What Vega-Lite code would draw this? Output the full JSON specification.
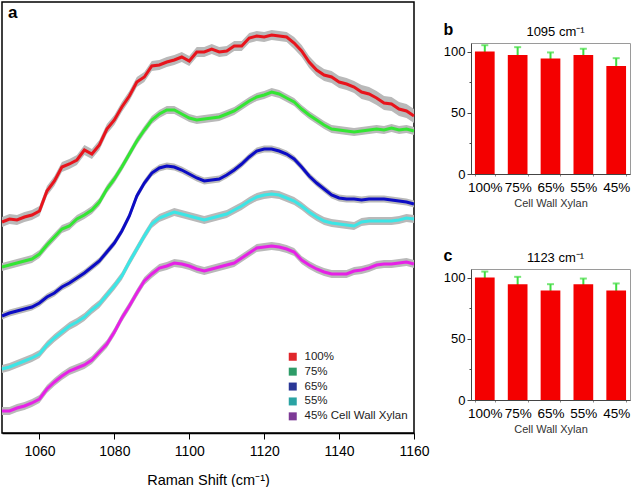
{
"$schema":"https://vega.github.io/schema/vega-lite/v6.json",
"padding":{"left":-5,"top":1,"right":0,"bottom":0},
"config":{"font":"Liberation Sans","axis":{"grid":false}},
"datasets":{
"spec":[
{"s":"100%","x":1050,"v":211,"e":5},{"s":"100%","x":1052,"v":214,"e":5},{"s":"100%","x":1054,"v":213,"e":5},{"s":"100%","x":1056,"v":216,"e":5},{"s":"100%","x":1058,"v":218,"e":5},{"s":"100%","x":1060,"v":222,"e":5},{"s":"100%","x":1062,"v":242,"e":5},{"s":"100%","x":1064,"v":252,"e":5},{"s":"100%","x":1066,"v":266,"e":5},{"s":"100%","x":1068,"v":269,"e":5},{"s":"100%","x":1070,"v":273,"e":5},{"s":"100%","x":1072,"v":283,"e":5},{"s":"100%","x":1074,"v":279,"e":5},{"s":"100%","x":1076,"v":288,"e":5},{"s":"100%","x":1078,"v":304,"e":5},{"s":"100%","x":1080,"v":313,"e":5},{"s":"100%","x":1082,"v":326,"e":5},{"s":"100%","x":1084,"v":337,"e":5},{"s":"100%","x":1086,"v":351,"e":5},{"s":"100%","x":1088,"v":356,"e":5},{"s":"100%","x":1090,"v":367,"e":5},{"s":"100%","x":1092,"v":368,"e":5},{"s":"100%","x":1094,"v":371,"e":5},{"s":"100%","x":1096,"v":373,"e":5},{"s":"100%","x":1098,"v":376,"e":5},{"s":"100%","x":1100,"v":372,"e":5},{"s":"100%","x":1102,"v":381,"e":5},{"s":"100%","x":1104,"v":381,"e":5},{"s":"100%","x":1106,"v":384,"e":5},{"s":"100%","x":1108,"v":381,"e":5},{"s":"100%","x":1110,"v":382,"e":5},{"s":"100%","x":1112,"v":387,"e":5},{"s":"100%","x":1114,"v":387,"e":5},{"s":"100%","x":1116,"v":395,"e":5},{"s":"100%","x":1118,"v":397,"e":5},{"s":"100%","x":1120,"v":396,"e":5},{"s":"100%","x":1122,"v":398,"e":5},{"s":"100%","x":1124,"v":397,"e":5},{"s":"100%","x":1126,"v":396,"e":5},{"s":"100%","x":1128,"v":390,"e":6},{"s":"100%","x":1130,"v":382,"e":6},{"s":"100%","x":1132,"v":371,"e":6},{"s":"100%","x":1134,"v":363,"e":6},{"s":"100%","x":1136,"v":358,"e":6},{"s":"100%","x":1138,"v":356,"e":6},{"s":"100%","x":1140,"v":351,"e":6},{"s":"100%","x":1142,"v":349,"e":6},{"s":"100%","x":1144,"v":346,"e":6},{"s":"100%","x":1146,"v":341,"e":7},{"s":"100%","x":1148,"v":339,"e":7},{"s":"100%","x":1150,"v":335,"e":7},{"s":"100%","x":1152,"v":330,"e":7},{"s":"100%","x":1154,"v":329,"e":7},{"s":"100%","x":1156,"v":324,"e":7},{"s":"100%","x":1158,"v":322,"e":7},{"s":"100%","x":1160,"v":317,"e":7},
{"s":"75%","x":1050,"v":166,"e":4},{"s":"75%","x":1052,"v":168,"e":4},{"s":"75%","x":1054,"v":170,"e":4},{"s":"75%","x":1056,"v":172,"e":4},{"s":"75%","x":1058,"v":174,"e":4},{"s":"75%","x":1060,"v":179,"e":4},{"s":"75%","x":1062,"v":188,"e":4},{"s":"75%","x":1064,"v":196,"e":4},{"s":"75%","x":1066,"v":204,"e":4},{"s":"75%","x":1068,"v":207,"e":4},{"s":"75%","x":1070,"v":214,"e":4},{"s":"75%","x":1072,"v":218,"e":4},{"s":"75%","x":1074,"v":223,"e":4},{"s":"75%","x":1076,"v":231,"e":4},{"s":"75%","x":1078,"v":244,"e":4},{"s":"75%","x":1080,"v":254,"e":4},{"s":"75%","x":1082,"v":266,"e":4},{"s":"75%","x":1084,"v":279,"e":4},{"s":"75%","x":1086,"v":292,"e":4},{"s":"75%","x":1088,"v":303,"e":4},{"s":"75%","x":1090,"v":313,"e":4},{"s":"75%","x":1092,"v":319,"e":4},{"s":"75%","x":1094,"v":323,"e":4},{"s":"75%","x":1096,"v":323,"e":4},{"s":"75%","x":1098,"v":319,"e":4},{"s":"75%","x":1100,"v":315,"e":4},{"s":"75%","x":1102,"v":313,"e":4},{"s":"75%","x":1104,"v":314,"e":4},{"s":"75%","x":1106,"v":315,"e":4},{"s":"75%","x":1108,"v":316,"e":4},{"s":"75%","x":1110,"v":319,"e":4},{"s":"75%","x":1112,"v":322,"e":4},{"s":"75%","x":1114,"v":327,"e":4},{"s":"75%","x":1116,"v":332,"e":4},{"s":"75%","x":1118,"v":336,"e":4},{"s":"75%","x":1120,"v":338,"e":4},{"s":"75%","x":1122,"v":341,"e":4},{"s":"75%","x":1124,"v":339,"e":4},{"s":"75%","x":1126,"v":335,"e":4},{"s":"75%","x":1128,"v":331,"e":4},{"s":"75%","x":1130,"v":324,"e":4},{"s":"75%","x":1132,"v":318,"e":4},{"s":"75%","x":1134,"v":313,"e":4},{"s":"75%","x":1136,"v":308,"e":4},{"s":"75%","x":1138,"v":304,"e":4},{"s":"75%","x":1140,"v":303,"e":4},{"s":"75%","x":1142,"v":302,"e":4},{"s":"75%","x":1144,"v":301,"e":4},{"s":"75%","x":1146,"v":302,"e":4},{"s":"75%","x":1148,"v":303,"e":4},{"s":"75%","x":1150,"v":304,"e":4},{"s":"75%","x":1152,"v":303,"e":4},{"s":"75%","x":1154,"v":305,"e":4},{"s":"75%","x":1156,"v":303,"e":4},{"s":"75%","x":1158,"v":304,"e":4},{"s":"75%","x":1160,"v":302,"e":4},
{"s":"65%","x":1050,"v":117,"e":3.5},{"s":"65%","x":1052,"v":120,"e":3.5},{"s":"65%","x":1054,"v":122,"e":3.5},{"s":"65%","x":1056,"v":124,"e":3.5},{"s":"65%","x":1058,"v":126,"e":3.5},{"s":"65%","x":1060,"v":130,"e":3.5},{"s":"65%","x":1062,"v":136,"e":3.5},{"s":"65%","x":1064,"v":140,"e":3.5},{"s":"65%","x":1066,"v":146,"e":3.5},{"s":"65%","x":1068,"v":150,"e":3.5},{"s":"65%","x":1070,"v":155,"e":3.5},{"s":"65%","x":1072,"v":160,"e":3.5},{"s":"65%","x":1074,"v":166,"e":3.5},{"s":"65%","x":1076,"v":172,"e":3.5},{"s":"65%","x":1078,"v":181,"e":3.5},{"s":"65%","x":1080,"v":190,"e":3.5},{"s":"65%","x":1082,"v":202,"e":3.5},{"s":"65%","x":1084,"v":217,"e":3.5},{"s":"65%","x":1086,"v":237,"e":3.5},{"s":"65%","x":1088,"v":250,"e":3.5},{"s":"65%","x":1090,"v":260,"e":3.5},{"s":"65%","x":1092,"v":265,"e":3.5},{"s":"65%","x":1094,"v":267,"e":3.5},{"s":"65%","x":1096,"v":266,"e":3.5},{"s":"65%","x":1098,"v":263,"e":3.5},{"s":"65%","x":1100,"v":259,"e":3.5},{"s":"65%","x":1102,"v":255,"e":3.5},{"s":"65%","x":1104,"v":252,"e":3.5},{"s":"65%","x":1106,"v":253,"e":3.5},{"s":"65%","x":1108,"v":254,"e":3.5},{"s":"65%","x":1110,"v":258,"e":3.5},{"s":"65%","x":1112,"v":263,"e":3.5},{"s":"65%","x":1114,"v":269,"e":3.5},{"s":"65%","x":1116,"v":276,"e":3.5},{"s":"65%","x":1118,"v":282,"e":3.5},{"s":"65%","x":1120,"v":284,"e":3.5},{"s":"65%","x":1122,"v":284,"e":3.5},{"s":"65%","x":1124,"v":282,"e":3.5},{"s":"65%","x":1126,"v":279,"e":3.5},{"s":"65%","x":1128,"v":274,"e":3.5},{"s":"65%","x":1130,"v":266,"e":3.5},{"s":"65%","x":1132,"v":257,"e":3.5},{"s":"65%","x":1134,"v":250,"e":3.5},{"s":"65%","x":1136,"v":244,"e":3.5},{"s":"65%","x":1138,"v":238,"e":3.5},{"s":"65%","x":1140,"v":235,"e":3.5},{"s":"65%","x":1142,"v":234,"e":3.5},{"s":"65%","x":1144,"v":234,"e":3.5},{"s":"65%","x":1146,"v":233,"e":3.5},{"s":"65%","x":1148,"v":234,"e":3.5},{"s":"65%","x":1150,"v":234,"e":3.5},{"s":"65%","x":1152,"v":234,"e":3.5},{"s":"65%","x":1154,"v":233,"e":3.5},{"s":"65%","x":1156,"v":232,"e":3.5},{"s":"65%","x":1158,"v":231,"e":3.5},{"s":"65%","x":1160,"v":229,"e":3.5},
{"s":"55%","x":1050,"v":64,"e":4},{"s":"55%","x":1052,"v":66,"e":4},{"s":"55%","x":1054,"v":69,"e":4},{"s":"55%","x":1056,"v":72,"e":4},{"s":"55%","x":1058,"v":75,"e":4},{"s":"55%","x":1060,"v":79,"e":4},{"s":"55%","x":1062,"v":88,"e":4},{"s":"55%","x":1064,"v":95,"e":4},{"s":"55%","x":1066,"v":101,"e":4},{"s":"55%","x":1068,"v":107,"e":4},{"s":"55%","x":1070,"v":111,"e":4},{"s":"55%","x":1072,"v":116,"e":4},{"s":"55%","x":1074,"v":123,"e":4},{"s":"55%","x":1076,"v":129,"e":4},{"s":"55%","x":1078,"v":138,"e":4},{"s":"55%","x":1080,"v":147,"e":4},{"s":"55%","x":1082,"v":157,"e":4},{"s":"55%","x":1084,"v":171,"e":4},{"s":"55%","x":1086,"v":184,"e":4},{"s":"55%","x":1088,"v":197,"e":4},{"s":"55%","x":1090,"v":209,"e":4},{"s":"55%","x":1092,"v":215,"e":4},{"s":"55%","x":1094,"v":218,"e":4},{"s":"55%","x":1096,"v":221,"e":4},{"s":"55%","x":1098,"v":219,"e":4},{"s":"55%","x":1100,"v":217,"e":4},{"s":"55%","x":1102,"v":215,"e":4},{"s":"55%","x":1104,"v":213,"e":4},{"s":"55%","x":1106,"v":215,"e":4},{"s":"55%","x":1108,"v":217,"e":4},{"s":"55%","x":1110,"v":219,"e":4},{"s":"55%","x":1112,"v":223,"e":4},{"s":"55%","x":1114,"v":227,"e":4},{"s":"55%","x":1116,"v":232,"e":4},{"s":"55%","x":1118,"v":236,"e":4},{"s":"55%","x":1120,"v":238,"e":4},{"s":"55%","x":1122,"v":239,"e":4},{"s":"55%","x":1124,"v":238,"e":4},{"s":"55%","x":1126,"v":235,"e":4},{"s":"55%","x":1128,"v":232,"e":4},{"s":"55%","x":1130,"v":227,"e":4},{"s":"55%","x":1132,"v":221,"e":4},{"s":"55%","x":1134,"v":216,"e":4},{"s":"55%","x":1136,"v":212,"e":4},{"s":"55%","x":1138,"v":210,"e":4},{"s":"55%","x":1140,"v":209,"e":4},{"s":"55%","x":1142,"v":208,"e":4},{"s":"55%","x":1144,"v":207,"e":4},{"s":"55%","x":1146,"v":211,"e":4},{"s":"55%","x":1148,"v":212,"e":4},{"s":"55%","x":1150,"v":212,"e":4},{"s":"55%","x":1152,"v":212,"e":4},{"s":"55%","x":1154,"v":212,"e":4},{"s":"55%","x":1156,"v":213,"e":4},{"s":"55%","x":1158,"v":215,"e":4},{"s":"55%","x":1160,"v":214,"e":4},
{"s":"45%","x":1050,"v":22,"e":4},{"s":"45%","x":1052,"v":22,"e":4},{"s":"45%","x":1054,"v":25,"e":4},{"s":"45%","x":1056,"v":27,"e":4},{"s":"45%","x":1058,"v":30,"e":4},{"s":"45%","x":1060,"v":34,"e":4},{"s":"45%","x":1062,"v":44,"e":4},{"s":"45%","x":1064,"v":51,"e":4},{"s":"45%","x":1066,"v":57,"e":4},{"s":"45%","x":1068,"v":62,"e":4},{"s":"45%","x":1070,"v":65,"e":4},{"s":"45%","x":1072,"v":68,"e":4},{"s":"45%","x":1074,"v":73,"e":4},{"s":"45%","x":1076,"v":81,"e":4},{"s":"45%","x":1078,"v":89,"e":4},{"s":"45%","x":1080,"v":101,"e":4},{"s":"45%","x":1082,"v":115,"e":4},{"s":"45%","x":1084,"v":127,"e":4},{"s":"45%","x":1086,"v":140,"e":4},{"s":"45%","x":1088,"v":152,"e":4},{"s":"45%","x":1090,"v":159,"e":4},{"s":"45%","x":1092,"v":165,"e":4},{"s":"45%","x":1094,"v":167,"e":4},{"s":"45%","x":1096,"v":170,"e":4},{"s":"45%","x":1098,"v":169,"e":4},{"s":"45%","x":1100,"v":167,"e":4},{"s":"45%","x":1102,"v":164,"e":4},{"s":"45%","x":1104,"v":162,"e":4},{"s":"45%","x":1106,"v":164,"e":4},{"s":"45%","x":1108,"v":166,"e":4},{"s":"45%","x":1110,"v":168,"e":4},{"s":"45%","x":1112,"v":170,"e":4},{"s":"45%","x":1114,"v":175,"e":4},{"s":"45%","x":1116,"v":180,"e":4},{"s":"45%","x":1118,"v":185,"e":4},{"s":"45%","x":1120,"v":186,"e":4},{"s":"45%","x":1122,"v":187,"e":4},{"s":"45%","x":1124,"v":186,"e":4},{"s":"45%","x":1126,"v":184,"e":4},{"s":"45%","x":1128,"v":181,"e":4},{"s":"45%","x":1130,"v":173,"e":4},{"s":"45%","x":1132,"v":168,"e":4},{"s":"45%","x":1134,"v":164,"e":4},{"s":"45%","x":1136,"v":161,"e":4},{"s":"45%","x":1138,"v":159,"e":4},{"s":"45%","x":1140,"v":159,"e":4},{"s":"45%","x":1142,"v":159,"e":4},{"s":"45%","x":1144,"v":162,"e":4},{"s":"45%","x":1146,"v":163,"e":4},{"s":"45%","x":1148,"v":165,"e":4},{"s":"45%","x":1150,"v":168,"e":4},{"s":"45%","x":1152,"v":169,"e":4},{"s":"45%","x":1154,"v":169,"e":4},{"s":"45%","x":1156,"v":170,"e":4},{"s":"45%","x":1158,"v":171,"e":4},{"s":"45%","x":1160,"v":169,"e":4}
],
"b":[{"g":"100%","v":100,"e":5.2},{"g":"75%","v":97.3,"e":6.3},{"g":"65%","v":94.3,"e":5},{"g":"55%","v":97.3,"e":5},{"g":"45%","v":88.3,"e":6.3}],
"c":[{"g":"100%","v":100,"e":4.9},{"g":"75%","v":94.6,"e":6},{"g":"65%","v":89.4,"e":5.2},{"g":"55%","v":94.6,"e":4.6},{"g":"45%","v":89.4,"e":5.8}],
"spacer":[{"k":""}]
},
"bounds":"flush",
"spacing":57,
"hconcat":[
{
"width":412,"height":431,
"view":{"stroke":"#000","strokeWidth":1.5},
"title":{"text":"a","anchor":"start","frame":"group","offset":-20,"dx":6,"fontSize":17,"fontWeight":"bold","color":"#000"},
"data":{"name":"spec"},
"encoding":{
"x":{"field":"x","type":"quantitative","scale":{"domain":[1050,1160],"nice":false,"zero":false},
"axis":{"values":[1060,1080,1100,1120,1140,1160],"format":"d","labelOverlap":false,"labelFlush":false,"tickSize":6,"tickColor":"#000","domainColor":"#000","domainWidth":1.5,"labelFontSize":14,"labelColor":"#000","labelPadding":5,"title":"Raman Shift (cm⁻¹)","titleFontSize":14.5,"titleFontWeight":"normal","titleColor":"#000","titlePadding":15}},
"y":{"field":"v","type":"quantitative","scale":{"domain":[0,431],"nice":false,"zero":false},"axis":null}
},
"layer":[
{"mark":{"type":"errorband","color":"#b9b9b9","opacity":1},
"encoding":{"yError":{"field":"e"},"detail":{"field":"s","type":"nominal"}}},
{"mark":{"type":"square","size":0,"opacity":1},
"encoding":{
"fill":{"field":"s","type":"nominal","scale":{"domain":["100%","75%","65%","55%","45%"],"range":["#e0262b","#2e9c68","#2a3796","#2aa3a3","#7d3a96"]},
"legend":{"orient":"none","legendX":285,"legendY":349,"title":null,"symbolType":"square","symbolSize":64,"symbolOpacity":1,"symbolStrokeWidth":0,"labelFontSize":11.5,"labelColor":"#222","rowPadding":1.9,"labelOffset":6,"labelExpr":"datum.label == '45%' ? '45% Cell Wall Xylan' : datum.label"}}}},
{"mark":{"type":"line","strokeWidth":3},
"encoding":{
"color":{"field":"s","type":"nominal","scale":{"domain":["100%","75%","65%","55%","45%"],"range":["#e8141c","#33e633","#0c0cc4","#3ce6e6","#e621e6"]},"legend":null}}}
]
},
{
"spacing":0,
"vconcat":[
{
"width":159,"height":18,
"view":{"stroke":null},
"data":{"name":"spacer"},
"mark":{"type":"text"},
"encoding":{"text":{"field":"k"}}
},
{
"spacing":37,
"vconcat":[
{
"width":159,"height":131,
"view":{"stroke":"#9a9a9a","strokeWidth":1},
"title":{"text":"1095 cm⁻¹","fontSize":13,"fontWeight":"normal","offset":-18,"dx":5,"color":"#000"},
"data":{"name":"b"},
"encoding":{
"x":{"field":"g","type":"nominal","sort":null,"scale":{"paddingInner":0.4,"paddingOuter":0.12},
"axis":{"title":"Cell Wall Xylan","labelAngle":0,"labelFontSize":13.5,"labelColor":"#000","labelOverlap":false,"labelPadding":4,"tickBand":"extent","tickSize":2,"domainColor":"#444","tickColor":"#888","titleFontSize":11,"titleFontWeight":"normal","titleColor":"#333","titlePadding":4}},
"y":{"field":"v","type":"quantitative","scale":{"domain":[0,107],"nice":false},
"axis":{"values":[0,25,50,75,100],"labelOverlap":false,"labelExpr":"datum.value % 50 == 0 ? datum.label : ''","tickSize":{"condition":{"test":"datum.value % 50 == 0","value":4},"value":2},"domainColor":"#444","tickColor":"#444","labelFontSize":13,"labelColor":"#000","labelPadding":2,"title":"b","titleAngle":0,"titleAlign":"left","titleBaseline":"alphabetic","titleX":-28,"titleY":-9,"titleFontSize":16,"titleFontWeight":"bold","titleColor":"#000"}}},
"layer":[
{"mark":{"type":"errorbar","color":"#3fdc3f","thickness":2,"ticks":{"size":7}},"encoding":{"yError":{"field":"e"}}},
{"mark":{"type":"bar","color":"#f40000"}}
]
},
{
"width":159,"height":131,
"view":{"stroke":"#9a9a9a","strokeWidth":1},
"title":{"text":"1123 cm⁻¹","fontSize":13,"fontWeight":"normal","offset":-18,"dx":5,"color":"#000"},
"data":{"name":"c"},
"encoding":{
"x":{"field":"g","type":"nominal","sort":null,"scale":{"paddingInner":0.4,"paddingOuter":0.12},
"axis":{"title":"Cell Wall Xylan","labelAngle":0,"labelFontSize":13.5,"labelColor":"#000","labelOverlap":false,"labelPadding":4,"tickBand":"extent","tickSize":2,"domainColor":"#444","tickColor":"#888","titleFontSize":11,"titleFontWeight":"normal","titleColor":"#333","titlePadding":4}},
"y":{"field":"v","type":"quantitative","scale":{"domain":[0,107],"nice":false},
"axis":{"values":[0,25,50,75,100],"labelOverlap":false,"labelExpr":"datum.value % 50 == 0 ? datum.label : ''","tickSize":{"condition":{"test":"datum.value % 50 == 0","value":4},"value":2},"domainColor":"#444","tickColor":"#444","labelFontSize":13,"labelColor":"#000","labelPadding":2,"title":"c","titleAngle":0,"titleAlign":"left","titleBaseline":"alphabetic","titleX":-28,"titleY":-9,"titleFontSize":16,"titleFontWeight":"bold","titleColor":"#000"}}},
"layer":[
{"mark":{"type":"errorbar","color":"#3fdc3f","thickness":2,"ticks":{"size":7}},"encoding":{"yError":{"field":"e"}}},
{"mark":{"type":"bar","color":"#f40000"}}
]
}
]
}
]
}
]
}
